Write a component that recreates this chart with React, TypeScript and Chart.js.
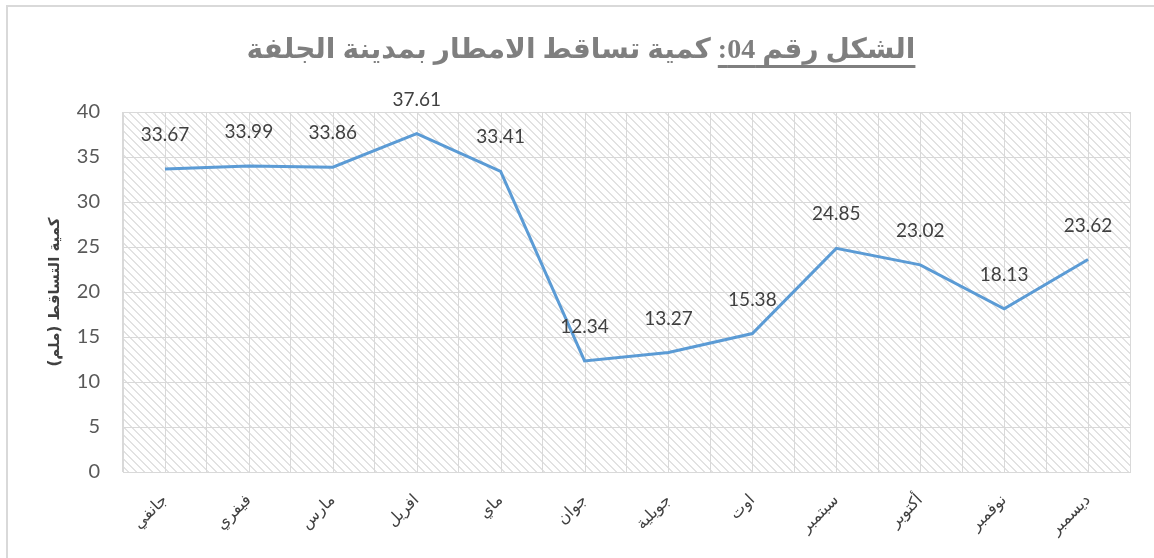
import React, { useEffect, useRef } from "react";
import { Chart, registerables } from "chart.js";

Chart.register(...registerables);

// ---- data ----
const months: string[] = [
  "جانفي",
  "فيفري",
  "مارس",
  "افريل",
  "ماي",
  "جوان",
  "جويلية",
  "اوت",
  "سبتمبر",
  "أكتوبر",
  "نوفمبر",
  "ديسمبر",
];
const rainfall: number[] = [33.67, 33.99, 33.86, 37.61, 33.41, 12.34, 13.27, 15.38, 24.85, 23.02, 18.13, 23.62];
const yMin = 0;
const yMax = 40;
const yStep = 5;
const titleUnderlined = "الشكل رقم 04:";
const titleRest = " كمية تساقط الامطار بمدينة الجلفة";
const yAxisTitle = "كمية التساقط (ملم)";

const GRID = "#d9d9d9";

function makeHatch(ctx: CanvasRenderingContext2D): CanvasPattern | string {
  const c = document.createElement("canvas");
  c.width = 8;
  c.height = 8;
  const g = c.getContext("2d");
  if (!g) return "#ffffff";
  g.fillStyle = "#ffffff";
  g.fillRect(0, 0, 8, 8);
  g.fillStyle = "#e2e2e2";
  for (let y = 0; y < 8; y++) {
    for (let x = 0; x < 8; x++) {
      const d = (((x - y) % 8) + 8) % 8;
      if (d === 0 || d === 1) g.fillRect(x, y, 1, 1);
    }
  }
  return ctx.createPattern(c, "repeat") || "#ffffff";
}

const hatchPlugin = {
  id: "hatchBg",
  beforeDraw(chart: any) {
    const { ctx, chartArea } = chart;
    if (!chartArea) return;
    ctx.save();
    ctx.fillStyle = makeHatch(ctx);
    ctx.fillRect(chartArea.left, chartArea.top, chartArea.right - chartArea.left, chartArea.bottom - chartArea.top);
    ctx.restore();
  },
};

const centerGridPlugin = {
  id: "centerGrid",
  beforeDatasetsDraw(chart: any) {
    const { ctx, chartArea } = chart;
    const xs = chart.scales.x;
    ctx.save();
    ctx.strokeStyle = GRID;
    ctx.lineWidth = 1;
    for (let i = 0; i < months.length; i++) {
      const px = Math.round(xs.getPixelForValue(i)) + 0.5;
      ctx.beginPath();
      ctx.moveTo(px, chartArea.top);
      ctx.lineTo(px, chartArea.bottom);
      ctx.stroke();
    }
    ctx.restore();
  },
};

const valueLabelPlugin = {
  id: "valueLabels",
  afterDatasetsDraw(chart: any) {
    const { ctx } = chart;
    const meta = chart.getDatasetMeta(0);
    const data = chart.data.datasets[0].data as number[];
    ctx.save();
    ctx.font = "19px Lato, 'Open Sans', sans-serif";
    ctx.fillStyle = "#404040";
    ctx.textAlign = "center";
    ctx.textBaseline = "middle";
    meta.data.forEach((pt: any, i: number) => {
      ctx.fillText(data[i].toFixed(2), pt.x, pt.y - 34);
    });
    ctx.restore();
  },
};

function RainChart() {
  const ref = useRef<HTMLCanvasElement | null>(null);
  useEffect(() => {
    if (!ref.current) return;
    const chart = new Chart(ref.current, {
      type: "line",
      data: {
        labels: months,
        datasets: [
          {
            data: rainfall,
            borderColor: "#5b9bd5",
            borderWidth: 3,
            pointRadius: 0,
            tension: 0,
            fill: false,
          },
        ],
      },
      options: {
        responsive: false,
        animation: false,
        devicePixelRatio: 1,
        layout: { padding: { left: 0, top: 112, right: 24, bottom: 0 } },
        plugins: {
          legend: { display: false },
          tooltip: { enabled: false },
          title: { display: false },
        },
        scales: {
          x: {
            offset: true,
            grid: { offset: true, color: GRID, drawTicks: false, lineWidth: 1 },
            border: { color: GRID, width: 1 },
            ticks: {
              minRotation: 45,
              maxRotation: 45,
              padding: 19,
              color: "#404040",
              font: { family: "'DejaVu Sans', sans-serif", size: 16 },
            },
            afterFit(scale: any) {
              scale.height = 86;
            },
          },
          y: {
            min: yMin,
            max: yMax,
            grid: { color: GRID, drawTicks: false, lineWidth: 1 },
            border: { color: GRID, width: 1 },
            ticks: {
              stepSize: yStep,
              padding: 23,
              color: "#595959",
              font: { family: "Lato, 'Open Sans', sans-serif", size: 20 },
            },
            title: {
              display: true,
              text: yAxisTitle,
              color: "#404040",
              font: { family: "'DejaVu Sans', sans-serif", size: 15, weight: "bold" },
              padding: { top: 46, bottom: 0 },
            },
            afterFit(scale: any) {
              scale.width = 123;
            },
          },
        },
      },
      plugins: [hatchPlugin, centerGridPlugin, valueLabelPlugin],
    } as any);
    return () => chart.destroy();
  }, []);
  return <canvas ref={ref} width={1154} height={558} style={{ position: "absolute", left: 0, top: 0 }} />;
}

export default function App() {
  return (
    <div
      style={{
        position: "absolute",
        left: 0,
        top: 0,
        width: 1154,
        height: 558,
        overflow: "hidden",
        background: "#ffffff",
      }}
    >
      <div
        style={{
          position: "absolute",
          left: 6,
          top: 5,
          width: 1300,
          height: 700,
          border: `2px solid ${GRID}`,
        }}
      />
      <RainChart />
      <div
        dir="rtl"
        style={{
          position: "absolute",
          left: 0,
          top: 27,
          width: 1162,
          textAlign: "center",
          fontFamily: "'Liberation Serif', 'DejaVu Sans', serif",
          fontWeight: "bold",
          fontSize: 28,
          lineHeight: "44px",
          color: "#7f7f7f",
          whiteSpace: "nowrap",
        }}
      >
        <span style={{ textDecoration: "underline", textDecorationThickness: 3, textUnderlineOffset: 7 }}>
          {titleUnderlined}
        </span>
        <span>{titleRest}</span>
      </div>
    </div>
  );
}
